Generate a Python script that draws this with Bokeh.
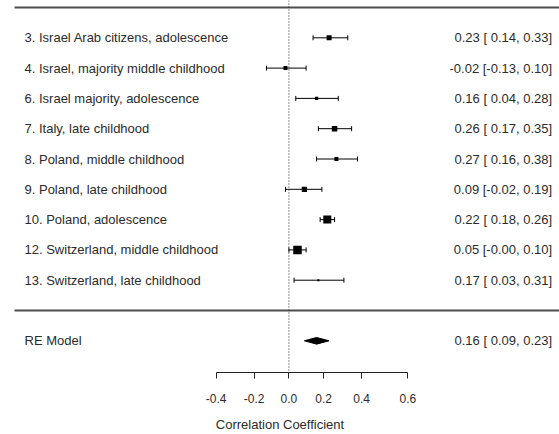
import numpy as np
from bokeh.plotting import figure
from bokeh.models import (Range1d, LinearAxis, FixedTicker, CustomJSTickFormatter,
                          Span, ColumnDataSource)
from bokeh.core.properties import value
from bokeh.embed import file_html
from bokeh.resources import INLINE

# ---------------- data ----------------
study_labels = [
    "3. Israel Arab citizens, adolescence",
    "4. Israel, majority middle childhood",
    "6. Israel majority, adolescence",
    "7. Italy, late childhood",
    "8. Poland, middle childhood",
    "9. Poland, late childhood",
    "10. Poland, adolescence",
    "12. Switzerland, middle childhood",
    "13. Switzerland, late childhood",
]
estimates = [0.23, -0.02, 0.16, 0.26, 0.27, 0.09, 0.22, 0.05, 0.17]
ci_lower = [0.14, -0.13, 0.04, 0.17, 0.16, -0.02, 0.18, -0.0, 0.03]
ci_upper = [0.33, 0.10, 0.28, 0.35, 0.38, 0.19, 0.26, 0.10, 0.31]

re_label = "RE Model"
re_estimate = 0.16
re_lower = 0.09
re_upper = 0.23

tick_values = [-0.4, -0.2, 0.0, 0.2, 0.4, 0.6]
x_axis_title = "Correlation Coefficient"

# ---------------- styles ----------------
marker_px = [5, 4, 3.3, 5.5, 4, 5.3, 8, 8.5, 2]
FONT = value("Liberation Sans")
TEXT_COLOR = "#2b2b2b"
LINE_COLOR = "#4d4d4d"

k = len(study_labels)
rows = list(range(k, 0, -1))


def fmt(est, lo, hi):
    return f"{est:.2f} [{lo:5.2f}, {hi:.2f}]"


z = np.arctanh

src = ColumnDataSource(dict(
    y=rows,
    est=z(np.array(estimates)),
    lo=z(np.array(ci_lower)),
    hi=z(np.array(ci_upper)),
    size=marker_px,
    label=study_labels,
    annot=[fmt(e, l, h) for e, l, h in zip(estimates, ci_lower, ci_upper)],
))

x_start, x_end = -1.6807, 1.5769
p = figure(width=559, height=434, output_backend="svg", toolbar_location=None,
           x_range=Range1d(x_start, x_end), y_range=Range1d(-2.046, k + 1.231),
           x_axis_type=None, y_axis_type=None,
           min_border_left=0, min_border_right=0, min_border_top=0,
           min_border_bottom=62)
p.outline_line_color = None
p.background_fill_color = "white"
p.border_fill_color = "white"

# reference line at 0
p.add_layout(Span(location=0, dimension="height", line_color="#222222",
                  line_width=1, line_dash="1 2"))

# horizontal separators
x_line0 = -1.599
p.segment(x0=[x_line0, x_line0], x1=[x_end, x_end], y0=[k + 1, 0], y1=[k + 1, 0],
          line_color=LINE_COLOR, line_width=2)

# CIs
p.segment(x0="lo", x1="hi", y0="y", y1="y", source=src, line_color="black", line_width=1)
p.scatter(x="lo", y="y", source=src, marker="dash", angle=np.pi / 2, size=5,
          line_color="black", line_width=1)
p.scatter(x="hi", y="y", source=src, marker="dash", angle=np.pi / 2, size=5,
          line_color="black", line_width=1)
p.scatter(x="est", y="y", source=src, marker="square", size="size",
          fill_color="black", line_color=None)

# RE diamond
dh = 0.11
p.patch(x=[z(re_lower), z(re_estimate), z(re_upper), z(re_estimate)],
        y=[-1, -1 + dh, -1, -1 - dh], fill_color="black", line_color="black", line_width=1)

# texts
x_left_text = -1.5408
x_right_text = 1.5338
p.text(x=x_left_text, y="y", text="label", source=src, text_align="left",
       text_baseline="middle", text_font=FONT, text_font_size="13px", text_color=TEXT_COLOR)
p.text(x=x_right_text, y="y", text="annot", source=src, text_align="right",
       text_baseline="middle", text_font=FONT, text_font_size="13px", text_color=TEXT_COLOR)
p.text(x=[x_left_text], y=[-1], text=[re_label], text_align="left",
       text_baseline="middle", text_font=FONT, text_font_size="13px", text_color=TEXT_COLOR)
p.text(x=[x_right_text], y=[-1], text=[fmt(re_estimate, re_lower, re_upper)],
       text_align="right", text_baseline="middle", text_font=FONT,
       text_font_size="13px", text_color=TEXT_COLOR)

# axis
ax = LinearAxis(
    ticker=FixedTicker(ticks=[float(z(t)) for t in tick_values]),
    formatter=CustomJSTickFormatter(code="return Math.tanh(tick).toFixed(1);"),
    bounds=(float(z(tick_values[0])), float(z(tick_values[-1]))),
    axis_label=x_axis_title,
)
ax.axis_line_color = "#222222"
ax.major_tick_line_color = "#222222"
ax.major_tick_in = 0
ax.major_tick_out = 6
ax.minor_tick_line_color = None
ax.major_label_standoff = 15
ax.major_label_text_font = "Liberation Sans"
ax.major_label_text_font_size = "12px"
ax.major_label_text_color = TEXT_COLOR
ax.axis_label_standoff = 11
ax.axis_label_text_font = "Liberation Sans"
ax.axis_label_text_font_size = "13px"
ax.axis_label_text_font_style = "normal"
ax.axis_label_text_color = TEXT_COLOR
p.add_layout(ax, "below")

open("out.html", "w").write(file_html(p, INLINE))
